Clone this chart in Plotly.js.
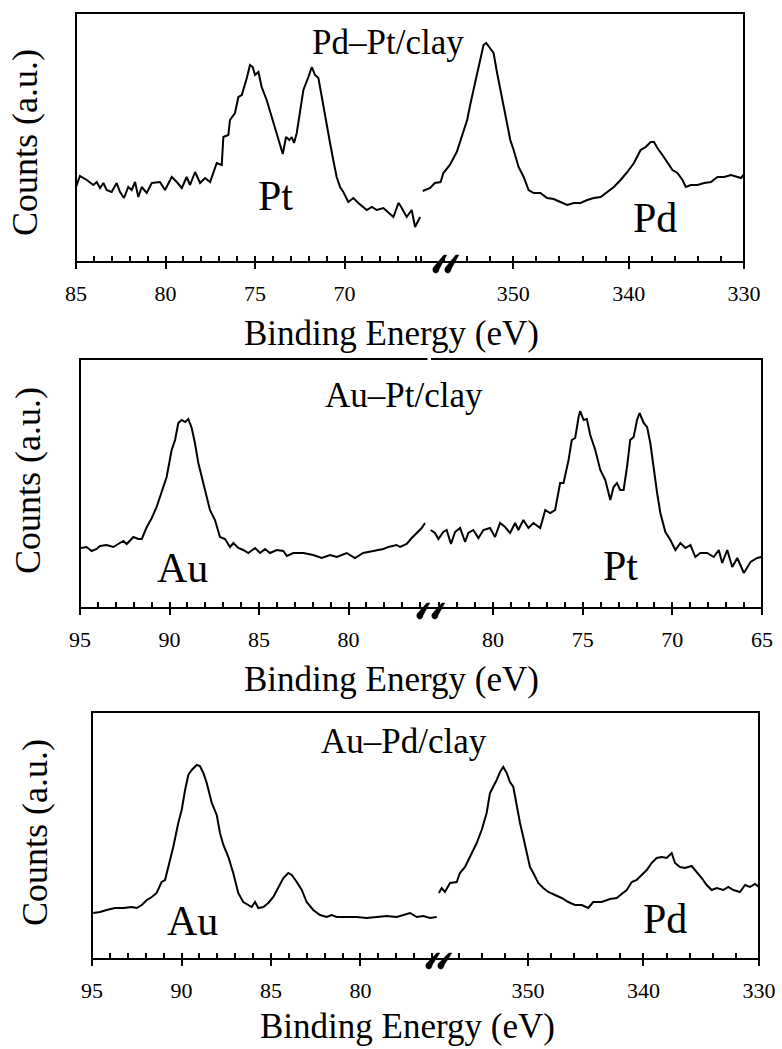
<!DOCTYPE html>
<html>
<head>
<meta charset="utf-8">
<script src="https://cdn.plot.ly/plotly-3.0.1.min.js"></script>
<style>html,body{margin:0;padding:0;background:#fff;}</style>
</head>
<body>
<div id="fig"></div>
<script>
// ---------- DATA ----------
// Panel 1: Pd–Pt/clay, Pt 4f region
const pdptPtEV = [85.00,84.78,84.40,84.03,83.84,83.66,83.47,83.29,83.01,82.73,82.54,82.32,82.08,81.89,81.70,81.52,81.33,81.05,80.77,80.31,80.03,79.65,79.37,79.09,78.82,78.63,78.35,78.07,77.79,77.51,77.14,76.86,76.77,76.49,76.40,76.12,75.93,75.74,75.46,75.28,75.13,75.00,74.81,74.63,74.35,74.07,73.79,73.60,73.45,73.27,73.08,72.95,72.82,72.67,72.49,72.30,72.02,71.83,71.65,71.46,71.27,70.99,70.81,70.63,70.44,70.25,70.07,69.79,69.51,69.23,68.95,68.76,68.48,68.20,67.83,67.55,67.27,66.99,66.90,66.53,66.25,66.06,65.78];
const pdptPtCounts = [75,86,82,77,80,74,79,72,70,79,70,64,75,72,80,65,75,69,79,80,72,85,80,74,85,77,90,79,84,80,99,97,125,127,142,149,165,167,184,197,195,187,190,175,162,145,129,119,108,125,122,125,119,129,152,172,185,195,187,184,165,135,119,102,85,75,70,60,64,59,55,52,55,52,54,49,45,59,57,45,52,35,45];
// Panel 1: Pd–Pt/clay, Pd 3d region
const pdptPdEV = [357.85,357.2,356.8,356.3,356.06,355.5,354.9,354.5,354.0,353.7,353.45,353.16,352.87,352.58,352.35,352.06,351.71,351.42,351.13,350.84,350.55,350.26,349.97,349.54,349.10,348.67,348.23,347.65,347.07,346.50,345.91,345.33,344.76,344.17,343.59,343.02,342.43,341.85,341.28,340.70,340.11,339.54,338.96,338.52,338.09,337.80,337.51,337.07,336.64,336.20,335.77,335.33,335.04,334.61,334.03,333.45,332.87,332.29,331.72,331.13,330.55,330.26,330.0];
const pdptPdCounts = [71,74,79,80,89,97,110,125,142,159,172,189,204,217,219,214,209,190,172,155,137,122,112,95,85,72,69,69,64,63,60,57,59,59,62,64,65,70,75,82,90,99,112,115,120,120,114,107,99,92,89,82,75,77,77,79,80,85,85,87,85,84,88];
// Panel 2: Au–Pt/clay, Au 4f region
const auptAuEV = [94.94,94.63,94.35,94.07,93.88,93.51,93.14,92.86,92.58,92.39,92.02,91.74,91.55,91.27,90.99,90.72,90.44,90.16,89.88,89.69,89.51,89.32,89.13,88.95,88.76,88.58,88.39,88.20,87.92,87.74,87.46,87.18,86.90,86.62,86.43,86.16,85.88,85.60,85.22,84.94,84.66,84.39,84.01,83.64,83.45,83.08,82.52,81.97,81.50,81.03,80.66,80.10,79.64,79.18,78.62,78.06,77.78,77.31,77.12,76.75,76.47,76.19,75.91,75.73];
const auptAuCounts = [60,61,57,59,62,63,61,64,67,64,71,69,69,81,90,101,115,131,158,168,185,188,186,189,180,165,145,131,111,98,88,71,69,61,65,60,58,55,60,55,59,55,58,57,52,55,55,53,50,53,51,55,50,55,57,59,61,63,61,64,70,75,80,85];
// Panel 2: Au–Pt/clay, Pt 4f region
const auptPtEV = [83.48,83.24,83.05,82.78,82.59,82.35,82.12,81.84,81.56,81.38,81.10,80.82,80.54,80.17,79.89,79.61,79.33,79.05,78.77,78.59,78.31,78.03,77.75,77.37,77.09,76.82,76.54,76.26,76.07,75.79,75.61,75.42,75.23,75.14,74.95,74.77,74.58,74.30,74.02,73.74,73.46,73.28,73.09,72.91,72.72,72.53,72.35,72.16,71.97,71.83,71.60,71.41,71.23,71.04,70.85,70.67,70.39,70.11,69.83,69.55,69.27,68.99,68.72,68.44,68.06,67.69,67.41,67.22,66.94,66.66,66.38,66.01,65.64,65.27,65.04];
const auptPtCounts = [78,75,69,76,78,64,76,80,66,75,78,70,78,80,71,85,81,75,85,78,88,80,85,80,98,95,98,125,125,148,168,170,191,197,188,189,173,158,138,128,108,121,125,118,118,141,168,171,188,195,185,181,165,138,115,95,76,68,58,65,60,63,51,55,55,51,58,45,58,41,50,35,46,50,51];
// Panel 3: Au–Pd/clay, Au 4f region
const aupdAuEV = [94.93,94.55,94.18,93.72,93.25,92.78,92.50,92.22,91.94,91.66,91.39,91.11,90.92,90.74,90.46,90.18,89.99,89.80,89.62,89.43,89.15,88.97,88.78,88.59,88.31,88.03,87.85,87.66,87.38,87.11,86.83,86.55,86.27,86.08,85.89,85.71,85.43,85.15,84.87,84.59,84.31,84.03,83.84,83.56,83.28,83.01,82.64,82.26,81.89,81.61,81.33,80.77,80.21,79.65,79.09,78.54,77.98,77.79,77.23,76.86,76.49,76.12,75.74];
const aupdAuCounts = [46,47,49,51,51,52,51,54,59,62,66,77,79,92,112,136,149,169,184,189,194,193,186,176,156,144,126,114,102,86,66,57,54,52,57,51,52,56,62,72,81,86,84,77,69,57,49,44,42,44,42,42,42,41,42,43,42,43,46,42,43,41,42];
// Panel 3: Au–Pd/clay, Pd 3d region
const aupdPdEV = [357.71,357.47,357.19,356.75,356.17,355.89,355.45,355.02,354.44,354.01,353.58,353.29,353.00,352.71,352.42,352.14,351.84,351.56,351.27,350.98,350.69,350.41,350.11,349.83,349.54,349.11,348.68,348.24,347.66,347.08,346.51,345.93,345.35,344.78,344.35,343.62,342.90,342.32,341.89,341.45,341.02,340.59,340.16,339.72,339.29,338.86,338.42,337.99,337.56,337.27,336.84,336.41,335.83,335.39,334.96,334.53,334.10,333.66,333.09,332.66,332.22,331.65,331.21,330.78,330.35,330.00];
const aupdPdCounts = [66,71,67,76,77,86,92,102,116,129,146,166,172,179,187,192,186,177,172,152,136,122,106,92,86,76,71,67,64,61,57,54,54,51,57,57,60,61,65,69,77,79,84,89,96,101,102,101,106,96,92,91,93,87,81,74,69,71,69,72,69,67,74,72,75,72];

// Text
const panelTitles = ["Pd–Pt/clay", "Au–Pt/clay", "Au–Pd/clay"];
const peakLabels = [["Pt", "Pd"], ["Au", "Pt"], ["Au", "Pd"]];
const xTitle = "Binding Energy (eV)";
const yTitle = "Counts (a.u.)";

// ---------- LAYOUT HELPERS ----------
const W = 782, H = 1049;
const SERIF = 'Liberation Serif';
const toPX = v => v / W;
const toPY = v => 1 - v / H;

// panel geometry in pixels: left, split, right, top, bottom
const panels = [
  {l: 76, s: 421, r: 744, t: 13, b: 262, rangeL: [85, 65.73], rangeR: [358.0, 330], dL: 5, mL: 1, dR: 10, mR: 2, y: [0, 249]},
  {l: 80, s: 428, r: 762, t: 359, b: 608, rangeL: [95, 75.56], rangeR: [83.63, 65], dL: 5, mL: 1, dR: 5, mR: 1, y: [0, 249]},
  {l: 92, s: 438, r: 759, t: 712, b: 959, rangeL: [95, 75.67], rangeR: [357.79, 330], dL: 5, mL: 1, dR: 10, mR: 2, y: [0, 247]}
];

function mainX(domain, range, dtick, mdtick, anchor) {
  return {
    domain: domain, range: range, anchor: anchor,
    showline: false, showgrid: false, zeroline: false,
    tickmode: 'linear', tick0: 0, dtick: dtick,
    ticks: 'outside', ticklen: 6, tickwidth: 2, tickcolor: '#000',
    ticklabelstandoff: 6,
    tickfont: {family: SERIF, size: 22, color: '#000'},
    minor: {ticks: 'inside', ticklen: 6, tickwidth: 2, tickcolor: '#000', tick0: 0, dtick: mdtick, showgrid: false},
    fixedrange: true
  };
}
function twinX(domain, range, dtick, anchor, over) {
  return {
    domain: domain, range: range, anchor: anchor, overlaying: over,
    showline: false, showgrid: false, zeroline: false,
    tickmode: 'linear', tick0: 0, dtick: dtick,
    ticks: 'inside', ticklen: 8, tickwidth: 2, tickcolor: '#000',
    showticklabels: false, fixedrange: true
  };
}

const layout = {
  width: W, height: H,
  margin: {l: 0, r: 0, t: 0, b: 0, pad: 0},
  paper_bgcolor: '#fff', plot_bgcolor: 'rgba(0,0,0,0)',
  font: {family: SERIF, color: '#000'},
  showlegend: false,
  shapes: [], annotations: []
};

const traces = [];
const dataSets = [
  [pdptPtEV, pdptPtCounts, pdptPdEV, pdptPdCounts],
  [auptAuEV, auptAuCounts, auptPtEV, auptPtCounts],
  [aupdAuEV, aupdAuCounts, aupdPdEV, aupdPdCounts]
];

panels.forEach((p, i) => {
  const yId = i === 0 ? 'y' : 'y' + (i + 1);
  const yKey = i === 0 ? 'yaxis' : 'yaxis' + (i + 1);
  const xLn = 2 * i + 1, xRn = 2 * i + 2;
  const xL = xLn === 1 ? 'x' : 'x' + xLn, xR = 'x' + xRn;
  const domL = [toPX(p.l), toPX(p.s)], domR = [toPX(p.s), toPX(p.r)];
  layout[xLn === 1 ? 'xaxis' : 'xaxis' + xLn] = mainX(domL, p.rangeL, p.dL, p.mL, yId);
  layout['xaxis' + xRn] = mainX(domR, p.rangeR, p.dR, p.mR, yId);
  layout['xaxis' + (7 + 2 * i)] = twinX(domL, p.rangeL, p.dL, yId, xL);
  layout['xaxis' + (8 + 2 * i)] = twinX(domR, p.rangeR, p.dR, yId, xR);
  layout[yKey] = {
    domain: [toPY(p.b), toPY(p.t)], range: p.y, anchor: xL,
    showline: false, showgrid: false, zeroline: false, showticklabels: false, ticks: '', fixedrange: true
  };
  const d = dataSets[i];
  traces.push({x: d[0], y: d[1], xaxis: xL, yaxis: yId, type: 'scatter', mode: 'lines',
               line: {color: '#000', width: 2}, hoverinfo: 'skip'});
  traces.push({x: d[2], y: d[3], xaxis: xR, yaxis: yId, type: 'scatter', mode: 'lines',
               line: {color: '#000', width: 2}, hoverinfo: 'skip'});
  layout.shapes.push({type: 'rect', xref: 'paper', yref: 'paper', x0: toPX(p.l), x1: toPX(p.r), y0: toPY(p.b), y1: toPY(p.t),
                      line: {color: '#000', width: 2}, layer: 'above'});
});

// axis-break marks (decoration)
function brk(tx, ty, bx, by) {
  const path = 'M' + toPX(tx - 1.2) + ',' + toPY(ty) +
    ' L' + toPX(tx + 1.8) + ',' + toPY(ty) +
    ' L' + toPX(bx + 3.2) + ',' + toPY(by - 3) +
    ' Q' + toPX(bx + 2.5) + ',' + toPY(by + 1.5) + ' ' + toPX(bx - 1) + ',' + toPY(by + 1) +
    ' Q' + toPX(bx - 4) + ',' + toPY(by) + ' ' + toPX(bx - 3) + ',' + toPY(by - 4) + ' Z';
  return {type: 'path', xref: 'paper', yref: 'paper', path: path, fillcolor: '#000',
          line: {color: '#000', width: 0.5}, layer: 'above'};
}
const breaks = [
  [[445, 255, 436, 272], [457, 255, 448, 272]],
  [[428, 603, 420, 618], [443, 603, 435, 618]],
  [[438, 953, 429, 968], [450, 953, 441, 968]]
];
breaks.forEach(b => b.forEach(m => layout.shapes.push(brk(m[0], m[1], m[2], m[3]))));
layout.shapes.push({type: 'rect', xref: 'paper', yref: 'paper', x0: toPX(427.5), x1: toPX(431), y0: toPY(363), y1: toPY(355),
                    fillcolor: '#fff', line: {width: 0}, layer: 'above'});

function ann(text, x, y, size, angle) {
  return {text: text, xref: 'paper', yref: 'paper', x: toPX(x), y: toPY(y), xanchor: 'center', yanchor: 'middle',
          showarrow: false, textangle: angle || 0, font: {family: SERIF, size: size, color: '#000'}};
}
const xTitleY = [333, 679, 1026], xTitleX = [391, 391, 407];
const yTitlePos = [[25, 143], [28, 481], [35, 833]];
const titlePos = [[388, 43], [404, 396], [404, 741]];
const peakPos = [[[275, 196], [655, 218]], [[182, 568], [620, 566]], [[192, 921], [665, 919]]];
for (let i = 0; i < 3; i++) {
  layout.annotations.push(ann(xTitle, xTitleX[i], xTitleY[i], 35));
  layout.annotations.push(ann(yTitle, yTitlePos[i][0], yTitlePos[i][1], 36, -90));
  layout.annotations.push(ann(panelTitles[i], titlePos[i][0], titlePos[i][1], 35));
  layout.annotations.push(ann(peakLabels[i][0], peakPos[i][0][0], peakPos[i][0][1], 42));
  layout.annotations.push(ann(peakLabels[i][1], peakPos[i][1][0], peakPos[i][1][1], 42));
}

Plotly.newPlot('fig', traces, layout, {staticPlot: true, displayModeBar: false});
</script>
</body>
</html>
